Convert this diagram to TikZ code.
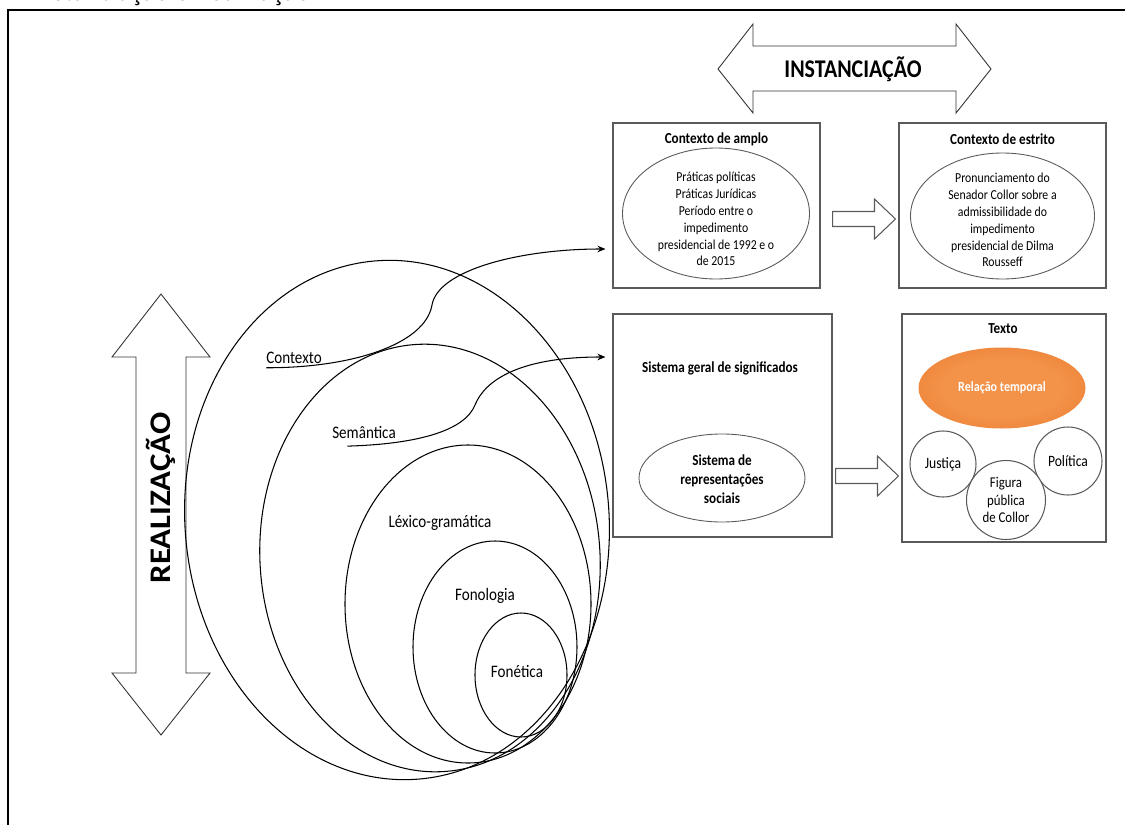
\documentclass[tikz,border=0pt]{standalone}
\usepackage{fontspec}
\setmainfont{Carlito}[FakeStretch=0.86]
\newfontfamily\tallfont{Carlito}[FakeStretch=1.1]
\usetikzlibrary{shapes.geometric,arrows.meta,calc}
\definecolor{linegray}{HTML}{5A5A5A}
\definecolor{orangein}{HTML}{F39249}
\definecolor{orangeout}{HTML}{E2691C}
\pgfdeclareradialshading{glow}{\pgfpoint{0bp}{0bp}}{color(0bp)=(orangein); color(18bp)=(orangein); color(50bp)=(orangeout)}
\begin{document}
\begin{tikzpicture}[x=0.2mm, y=-0.2mm,
  panel/.style={draw=linegray, line width=0.6pt, inner sep=0pt},
  paneltitle/.style={font=\fontsize{8.7}{10}\selectfont\bfseries, inner sep=0pt},
  bodytext/.style={font=\fontsize{7.8}{9.6}\selectfont, align=center, inner sep=0pt},
  oval/.style={ellipse, draw=linegray, line width=0.5pt, inner sep=0pt},
  ring/.style={draw=black, line width=0.6pt},
  level/.style={font=\fontsize{10}{12}\selectfont, inner sep=1.5pt},
  link/.style={draw=black, line width=0.6pt, -{Stealth[length=1.6mm,width=1.3mm]}},
  hollow/.style={draw=linegray, line width=0.6pt, fill=white, line join=miter},
  bigarrow/.style={draw=black!80, line width=0.5pt, fill=white, line join=miter},
  bubble/.style={circle, draw=linegray, line width=0.6pt, fill=white, inner sep=0pt, align=center}
]
\useasboundingbox (0,0) rectangle (1125,825);
\fill[white] (0,0) rectangle (1125,825);

% heading line, cut by the top of the page
\node[anchor=base west, inner sep=0pt, font=\fontsize{18}{20}\selectfont] (caption) at (32,0) {Instanciação e Realização};

% outer frame
\draw[line width=1pt] (8,845) -- (8,10) -- (1140,10);

% INSTANCIACAO double arrow
\draw[bigarrow] (718,69) -- (753,24) -- (753,46) -- (956,46) -- (956,24) -- (991,69)
  -- (956,113) -- (956,91) -- (753,91) -- (753,113) -- cycle;
\node[font=\fontsize{14.5}{16}\selectfont\bfseries] (inst) at (853,69) {INSTANCIAÇÃO};

% REALIZACAO double arrow
\draw[bigarrow] (161,294) -- (210,357) -- (186,357) -- (186,673) -- (210,673) -- (161,735)
  -- (112,673) -- (136,673) -- (136,357) -- (112,357) -- cycle;
\node[rotate=90, font=\tallfont\fontsize{17}{19}\selectfont\bfseries] (real) at (161,498) {REALIZAÇÃO};

% nested strata
\draw[ring, rotate around={5:(397,520)}] (397,520) ellipse [x radius=212, y radius=260];
\draw[ring, rotate around={4:(430,558)}] (430,558) ellipse [x radius=170, y radius=214];
\draw[ring] (468,604) ellipse [x radius=123, y radius=159];
\draw[ring] (495,647) ellipse [x radius=82, y radius=106];
\draw[ring] (521,675) ellipse [x radius=46, y radius=62];

\node[level] (ctxlab) at (294,358) {Contexto};
\node[level] (semlab) at (364,432) {Semântica};
\node[level] (lexlab) at (440,523) {Léxico-gramática};
\node[level] (fonlab) at (485,596) {Fonologia};
\node[level] (fntlab) at (517,671) {Fonética};

% context panels
\node[panel, minimum width=41.4mm, minimum height=33mm] (amplo) at (716.5,205.5) {};
\node[paneltitle] (amplotitle) at (716.5,139) {Contexto de amplo};
\node[oval, minimum width=37.4mm, minimum height=26.2mm] (amploval) at (716,213.5) {};
\node[bodytext] (amplotext) at (716,219) {Práticas políticas\\Práticas Jurídicas\\Período entre o\\impedimento\\presidencial de 1992 e o\\de 2015};

\node[panel, minimum width=41.4mm, minimum height=33mm] (estrito) at (1002.5,205.5) {};
\node[paneltitle] (estritotitle) at (1002.5,139) {Contexto de estrito};
\node[oval, minimum width=36.8mm, minimum height=25.2mm] (estritoval) at (1002.5,216) {};
\node[bodytext] (estritotext) at (1002.5,220) {Pronunciamento do\\Senador Collor sobre a\\admissibilidade do\\impedimento\\presidencial de Dilma\\Rousseff};

% meaning system panel
\node[panel, minimum width=43.8mm, minimum height=44.6mm] (sistema) at (722.5,425.5) {};
\node[paneltitle] (sistematitle) at (720,368) {Sistema geral de significados};
\node[oval, minimum width=33.2mm, minimum height=17.6mm] (sistemaval) at (722,478) {};
\node[font=\fontsize{8.7}{10.8}\selectfont\bfseries, align=center, inner sep=0pt] (sistematext) at (722,479) {Sistema de\\representações\\sociais};

% text panel
\node[panel, minimum width=40.8mm, minimum height=45.6mm] (texto) at (1004,428) {};
\node[paneltitle] (textotitle) at (1003,329) {Texto};
\node[ellipse, shading=glow, minimum width=33.4mm, minimum height=16.2mm, inner sep=0pt,
  text=white, font=\fontsize{8}{10}\selectfont\bfseries] (temporal) at (1002,388) {Relação temporal};
\node[bubble, minimum size=13.2mm, font=\fontsize{9}{11}\selectfont] (justica) at (943,464) {Justiça};
\node[bubble, minimum size=13.6mm, font=\fontsize{9}{11}\selectfont] (politica) at (1068,461) {Política};
\node[bubble, minimum size=15.8mm, font=\fontsize{8.5}{9.8}\selectfont] (figura) at (1006,500) {Figura\\pública\\de Collor};

% hollow arrows between panels
\coordinate (t1) at ($(amplo.east)+(12,13.5)$);
\coordinate (h1) at ($(estrito.west)+(-3,13.5)$);
\draw[hollow] ($(t1)+(0,-7.5)$) -- ($(h1)+(-21,-7.5)$) -- ($(h1)+(-21,-20)$) -- (h1)
  -- ($(h1)+(-21,20)$) -- ($(h1)+(-21,7.5)$) -- ($(t1)+(0,7.5)$) -- cycle;
\coordinate (t2) at ($(sistema.east)+(3,50.5)$);
\coordinate (h2) at ($(texto.west)+(-3,48)$);
\draw[hollow] ($(t2)+(0,-7.5)$) -- ($(h2)+(-21,-7.5)$) -- ($(h2)+(-21,-20)$) -- (h2)
  -- ($(h2)+(-21,20)$) -- ($(h2)+(-21,7.5)$) -- ($(t2)+(0,7.5)$) -- cycle;

% curved links from strata to panels
\coordinate (ctxend) at ($(amplo.west)+(-7,43.5)$);
\coordinate (semend) at ($(sistema.west)+(-7,-68.5)$);
\draw[link] ($(ctxlab.south west)+(3,1)$) .. controls (350,368) and (425,345) .. (432,305)
  .. controls (438,270) and (520,249) .. (ctxend);
\draw[link] ($(semlab.south west)+(18,5)$) .. controls (420,444) and (465,430) .. (475,405)
  .. controls (485,380) and (520,357) .. (semend);
\end{tikzpicture}
\end{document}
